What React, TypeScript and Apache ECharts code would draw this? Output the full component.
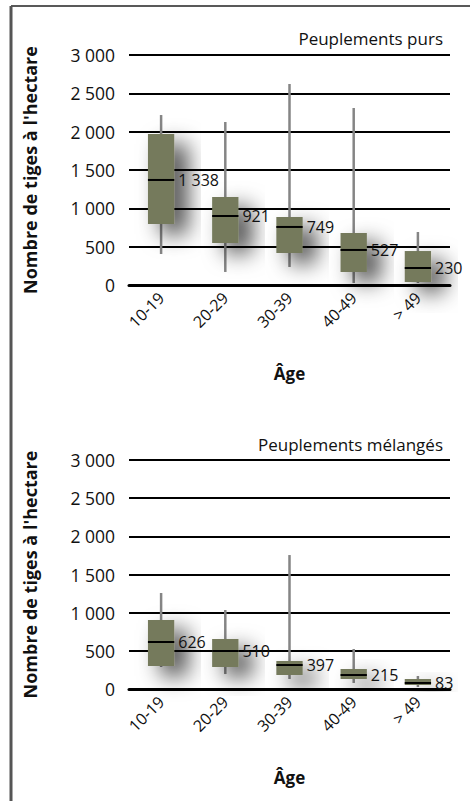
import React, { useEffect, useRef } from "react";
import * as echarts from "echarts";

const categories = ["10-19", "20-29", "30-39", "40-49", "> 49"];
const yTicks = [0, 500, 1000, 1500, 2000, 2500, 3000];

// Peuplements purs
const pursLow = [404, 170, 235, 26, 26];
const pursQ1 = [796, 548, 417, 170, 39];
const pursMedian = [1370, 900, 757, 457, 222];
const pursQ3 = [1970, 1148, 887, 678, 443];
const pursHigh = [2217, 2126, 2622, 2309, 691];
const pursLabels = [1338, 921, 749, 527, 230];

// Peuplements mélangés
const melLow = [288, 196, 131, 79, 26];
const melQ1 = [301, 288, 183, 131, 52];
const melMedian = [616, 498, 314, 183, 79];
const melQ3 = [904, 655, 367, 262, 131];
const melHigh = [1258, 1035, 1755, 524, 170];
const melLabels = [626, 510, 397, 215, 83];

const FONT = "Open Sans";

function fmt(v: number): string {
  return String(v).replace(/\B(?=(\d{3})+(?!\d))/g, " ");
}

function build(low: number[], q1: number[], med: number[], q3: number[], high: number[], labels: number[]) {
  return categories.map((_, i) => [i, low[i], q1[i], med[i], q3[i], high[i], labels[i]]);
}

const renderItem = (params: any, api: any) => {
  const idx = api.value(0);
  const pLow = api.coord([idx, api.value(1)]);
  const pQ1 = api.coord([idx, api.value(2)]);
  const pMed = api.coord([idx, api.value(3)]);
  const pQ3 = api.coord([idx, api.value(4)]);
  const pHigh = api.coord([idx, api.value(5)]);
  const bw = api.size([1, 0])[0] * 0.41;
  const cx = pMed[0];
  const x0 = cx - bw / 2;
  return {
    type: "group",
    children: [
      {
        type: "line",
        z2: 1,
        shape: { x1: cx, y1: pLow[1], x2: cx, y2: pHigh[1] },
        style: { stroke: "#858585", lineWidth: 2.5 },
      },
      {
        type: "rect",
        z2: 2,
        shape: { x: x0, y: pQ3[1], width: bw, height: pQ1[1] - pQ3[1] },
        style: {
          fill: "#747a5c",
          shadowBlur: 22,
          shadowOffsetX: 13,
          shadowOffsetY: 10,
          shadowColor: "rgba(0,0,0,0.72)",
        },
      },
      {
        type: "line",
        z2: 3,
        shape: { x1: x0, y1: pMed[1], x2: x0 + bw, y2: pMed[1] },
        style: { stroke: "#000", lineWidth: 2 },
      },
      {
        type: "text",
        z2: 100,
        x: x0 + bw + 4,
        y: pMed[1],
        style: {
          text: fmt(api.value(6)),
          fill: "#111",
          font: `16px "${FONT}"`,
          verticalAlign: "middle",
          align: "left",
        },
      },
    ],
  };
};

export default function App() {
  const ref = useRef<HTMLDivElement>(null);
  useEffect(() => {
    if (!ref.current) return;
    const chart = echarts.init(ref.current, null, { renderer: "svg" });
    const yAxisBase = (gridIndex: number) => ({
      type: "value",
      gridIndex,
      min: yTicks[0],
      max: yTicks[yTicks.length - 1],
      interval: 500,
      name: "Nombre de tiges à l'hectare",
      nameLocation: "middle",
      nameGap: 90,
      nameRotate: 90,
      nameTextStyle: { fontFamily: FONT, fontSize: 18, fontWeight: "bold", color: "#111" },
      axisLine: { show: false },
      axisTick: { show: false },
      axisLabel: {
        fontFamily: FONT,
        fontSize: 17.5,
        color: "#111",
        margin: 14,
        formatter: (v: number) => fmt(v),
      },
      splitLine: { show: true, lineStyle: { color: "#000", width: 2 } },
    });
    const xAxisBase = (gridIndex: number) => ({
      type: "category",
      gridIndex,
      data: categories,
      boundaryGap: true,
      name: "Âge",
      nameLocation: "middle",
      nameGap: 80,
      nameTextStyle: { fontFamily: FONT, fontSize: 17, fontWeight: "bold", color: "#111" },
      axisLine: { show: true, lineStyle: { color: "#000", width: 3 } },
      axisTick: { show: false },
      axisLabel: { fontFamily: FONT, fontSize: 16, color: "#111", rotate: 45, margin: 10 },
      splitLine: { show: false },
    });
    chart.setOption({
      animation: false,
      backgroundColor: "#fff",
      title: [
        {
          text: "Peuplements purs",
          right: 22,
          top: 25,
          textStyle: { fontFamily: FONT, fontSize: 17, fontWeight: "normal", color: "#111" },
        },
        {
          text: "Peuplements mélangés",
          right: 22,
          top: 431,
          textStyle: { fontFamily: FONT, fontSize: 17, fontWeight: "normal", color: "#111" },
        },
      ],
      grid: [
        { left: 129, right: 20, top: 55, height: 230 },
        { left: 129, right: 20, top: 460, height: 229 },
      ],
      xAxis: [xAxisBase(0), xAxisBase(1)],
      yAxis: [yAxisBase(0), yAxisBase(1)],
      graphic: [
        { type: "line", shape: { x1: 11, y1: 6, x2: 470, y2: 6 }, style: { stroke: "#222", lineWidth: 1.5 } },
        { type: "line", shape: { x1: 11, y1: 6, x2: 11, y2: 801 }, style: { stroke: "#555", lineWidth: 3 } },
      ],
      series: [
        {
          type: "custom",
          xAxisIndex: 0,
          yAxisIndex: 0,
          renderItem,
          data: build(pursLow, pursQ1, pursMedian, pursQ3, pursHigh, pursLabels),
          encode: { x: 0, y: [1, 5] },
          clip: false,
        },
        {
          type: "custom",
          xAxisIndex: 1,
          yAxisIndex: 1,
          renderItem,
          data: build(melLow, melQ1, melMedian, melQ3, melHigh, melLabels),
          encode: { x: 0, y: [1, 5] },
          clip: false,
        },
      ],
    });
    return () => chart.dispose();
  }, []);
  return <div ref={ref} style={{ position: "absolute", left: 0, top: 0, width: 470, height: 801 }} />;
}
